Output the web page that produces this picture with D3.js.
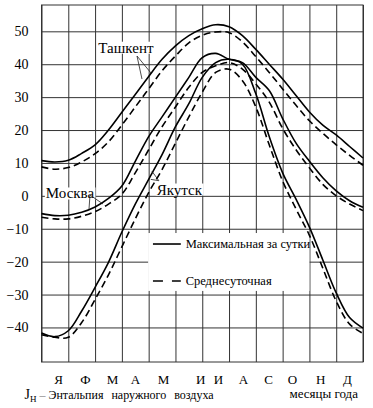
<!DOCTYPE html>
<html>
<head>
<meta charset="utf-8">
<script src="https://cdn.jsdelivr.net/npm/d3@7"></script>
<style>
  body { margin: 0; background: #fff; }
  svg { display: block; }
  .grid line { stroke: #333; stroke-width: 1; }
  .grid .domain { display: none; }
  .curve { fill: none; stroke: #000; stroke-width: 1.6; }
  .curve--avg { stroke-dasharray: 7 4; }
  .pointer { stroke: #222; stroke-width: 0.8; fill: none; }
</style>
</head>
<body>
<div class="chart"></div>
<script>
// month positions (0 = start of January, 12 = end of December)
const months = [0, 0.5, 1, 1.5, 2, 2.5, 3, 3.5, 4, 4.5, 5, 5.5, 6, 6.5, 7, 7.5, 8, 8.5, 9, 9.5, 10, 10.5, 11, 11.5, 12]

const tashkentMax = [10.7, 10.3, 10.8, 12.9, 15.5, 20, 25.4, 30.8, 36.3, 41.5, 45.6, 48.7, 50.8, 52, 51.4, 48.7, 44.5, 40, 35.5, 30.5, 25.5, 21.5, 18.5, 15, 11.5]
const tashkentAvg = [8.8, 8.1, 8.6, 10.3, 12.8, 16.4, 21.5, 27, 32.5, 38, 42.5, 46.5, 48.8, 49.8, 49.6, 46.8, 42.3, 37.5, 32.5, 27.5, 22.8, 19, 15.5, 12.3, 9.3]
const moscowMax = [-5.4, -6, -5.9, -5, -3.4, -0.8, 3, 10.5, 18, 24, 30, 36, 42, 43.3, 41.5, 40.5, 36, 32, 23.5, 16, 10.5, 5.5, 1.5, -1.5, -3.5]
const moscowAvg = [-6.5, -7, -7, -6.2, -4.8, -2.5, 0.5, 7, 14, 21, 27, 33, 37.5, 39.5, 40.5, 38.5, 34, 28.5, 20.5, 14, 8.5, 3.5, 0, -2.5, -4.5]
const yakutskMax = [-41.7, -42.8, -41, -35, -27.8, -20.2, -11, -2.5, 5, 12.5, 21, 28, 36, 40.5, 41.5, 40, 31, 18, 7, -1, -9.5, -19.5, -29.5, -37, -40.2]
const yakutskAvg = [-42.2, -43, -43, -38.5, -31.5, -24, -15.5, -7, 1, 8, 16, 24, 31.5, 37.5, 38.5, 35, 27, 15.5, 4.5, -4, -12, -22, -32, -39, -41.8]

const yTicks = [-40, -30, -20, -10, 0, 10, 20, 30, 40, 50]
const monthLabels = ['Я', 'Ф', 'М', 'А', 'М', 'И', 'И', 'А', 'С', 'О', 'Н', 'Д']
const monthLabelPos = [0.62, 1.62, 2.63, 3.49, 4.54, 5.92, 6.59, 7.52, 8.46, 9.35, 10.4, 11.4]

const series = [
  { name: 'Ташкент', type: 'max', values: tashkentMax },
  { name: 'Ташкент', type: 'avg', values: tashkentAvg },
  { name: 'Москва', type: 'max', values: moscowMax },
  { name: 'Москва', type: 'avg', values: moscowAvg },
  { name: 'Якутск', type: 'max', values: yakutskMax },
  { name: 'Якутск', type: 'avg', values: yakutskAvg }
]

const FONT = "'Liberation Serif'"

const width = 373
const height = 408
const margins = { top: 5, right: 10, bottom: 46, left: 41.5 }
const innerWidth = width - margins.left - margins.right
const innerHeight = height - margins.top - margins.bottom

const x = d3.scaleLinear().domain([0, 12]).range([0, innerWidth])
const y = d3.scaleLinear().domain([-50.5, 58]).range([innerHeight, 0])

const svg = d3.select('.chart')
  .append('svg')
  .attr('width', width)
  .attr('height', height)
  .append('g')
  .attr('transform', `translate(${margins.left}, ${margins.top})`)

// vertical grid (month borders)
svg.append('g')
  .attr('class', 'grid')
  .attr('transform', `translate(0, ${innerHeight})`)
  .call(d3.axisBottom(x).tickValues(d3.range(0, 13)).tickSize(-innerHeight).tickFormat(''))
  .call(g => g.selectAll('text').remove())

// horizontal grid + value labels
svg.append('g')
  .attr('class', 'grid')
  .call(
    d3.axisLeft(y)
      .tickValues(yTicks)
      .tickSize(-innerWidth)
      .tickPadding(13)
  )
  .call(g => g.attr('font-family', null).attr('font-size', null))
  .call(g => g.selectAll('text')
    .style('font-family', FONT)
    .style('font-size', '14px')
    .attr('fill', '#000'))

// frame
svg.append('rect')
  .attr('width', innerWidth)
  .attr('height', innerHeight)
  .attr('fill', 'none')
  .attr('stroke', '#333')

// month letters
svg.append('g')
  .attr('class', 'grid')
  .attr('transform', `translate(0, ${innerHeight})`)
  .call(
    d3.axisBottom(x)
      .tickValues(monthLabelPos)
      .tickSize(0)
      .tickPadding(13)
      .tickFormat((d, i) => monthLabels[i])
  )
  .call(g => g.attr('font-family', null).attr('font-size', null))
  .call(g => g.selectAll('text')
    .style('font-family', FONT)
    .style('font-size', '13px')
    .attr('fill', '#000'))

// white box under the legend
svg.append('rect')
  .attr('x', x(3.98))
  .attr('y', y(-11.3))
  .attr('width', x(10) - x(3.98))
  .attr('height', y(-28.9) - y(-11.3))
  .attr('fill', '#fff')

const line = d3.line()
  .x((d, i) => x(months[i]))
  .y(d => y(d))
  .curve(d3.curveCatmullRom.alpha(0.5))

svg.append('g')
  .selectAll('path')
  .data(series)
  .join('path')
  .attr('class', d => `curve curve--${d.type}`)
  .attr('d', d => line(d.values))

// city labels with pointers
const labels = [
  { text: 'Ташкент', m: 3.15, v: 43.5, anchor: 'middle',
    pointers: [[3.565, 42.5, 3.75, 35.5], [3.565, 42.5, 4.09, 37.3]] },
  { text: 'Москва', m: 1.064, v: -0.8, anchor: 'middle',
    pointers: [[1.81, 0.25, 1.773, -4.0], [1.81, 0.25, 2.296, -2.48]] },
  { text: 'Якутск', m: 4.3, v: 0.4, anchor: 'start',
    pointers: [[4.38, 4.6, 4.12, 7.5], [4.38, 4.6, 4.08, 5.0]] }
]

labels.forEach(l => {
  const g = svg.append('g')
  const t = g.append('text')
    .attr('x', x(l.m))
    .attr('y', y(l.v))
    .attr('text-anchor', l.anchor)
    .style('font-family', FONT)
    .style('font-size', '15px')
    .attr('fill', '#000')
    .text(l.text)
  const b = t.node().getBBox()
  g.insert('rect', 'text')
    .attr('x', b.x - 1)
    .attr('y', b.y + 2)
    .attr('width', b.width + 2)
    .attr('height', b.height - 4)
    .attr('fill', '#fff')
  l.pointers.forEach(p => {
    svg.append('line')
      .attr('class', 'pointer')
      .attr('x1', x(p[0])).attr('y1', y(p[1]))
      .attr('x2', x(p[2])).attr('y2', y(p[3]))
  })
})

// legend
const legend = [
  { label: 'Максимальная за сутки', type: 'max', v: -14.64 },
  { label: 'Среднесуточная', type: 'avg', v: -25.88 }
]

const $legend = svg.append('g')
legend.forEach(d => {
  $legend.append('line')
    .attr('class', 'curve')
    .attr('x1', x(4.16)).attr('x2', x(5.2))
    .attr('y1', y(d.v)).attr('y2', y(d.v))
    .attr('stroke-dasharray', d.type === 'avg' ? '10 9' : null)
  $legend.append('text')
    .attr('x', x(5.38))
    .attr('y', y(d.v))
    .attr('dy', '0.35em')
    .style('font-family', FONT)
    .style('font-size', '12.5px')
    .attr('fill', '#000')
    .text(d.label)
})

// bottom captions
const caption = svg.append('text')
  .attr('x', -17)
  .attr('y', innerHeight + 37)
  .style('font-family', FONT)
  .style('font-size', '12px')
  .attr('fill', '#000')
caption.append('tspan').style('font-size', '14px').text('J')
caption.append('tspan').style('font-size', '9px').attr('dy', 2.5).text('Н')
caption.append('tspan').attr('dy', -2.5).attr('fill', '#888').text(' – ')
caption.append('tspan').style('word-spacing', '5px').text('Энтальпия наружного воздуха')

svg.append('text')
  .attr('x', innerWidth - 5)
  .attr('y', innerHeight + 36)
  .attr('text-anchor', 'end')
  .style('font-family', FONT)
  .style('font-size', '13px')
  .attr('fill', '#000')
  .text('месяцы года')
</script>
</body>
</html>
